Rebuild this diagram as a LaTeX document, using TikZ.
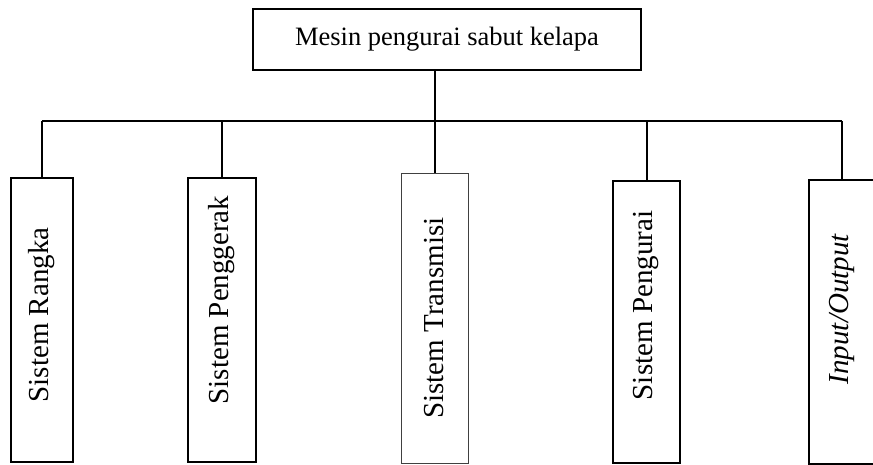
\documentclass[tikz,border=0pt]{standalone}
\usepackage{fontspec}
\setmainfont{Liberation Serif}
\begin{document}
\begin{tikzpicture}[x=1pt,y=1pt,yscale=-1,xscale=1,
  box/.style={draw, line width=2pt, inner sep=0pt, font=\fontsize{29}{32}\selectfont},
  sub/.style={box, rotate=90, minimum height=67pt},
  link/.style={line width=2pt}]
\useasboundingbox (0,0) rectangle (873,464);
%Shape: Rectangle (top)
\node [box, minimum width=388pt, minimum height=61pt, font=\fontsize{26.5}{30}\selectfont] (mesin) at (447,39.5) {Mesin pengurai sabut kelapa};
%Shape: Rectangle
\node [sub, minimum width=284pt, minimum height=62pt] (rangka) at (42,320) {\hspace*{10pt}Sistem Rangka};
%Shape: Rectangle
\node [sub, minimum width=284pt, minimum height=68pt] (penggerak) at (222,320) {\hspace*{40pt}Sistem Penggerak};
%Shape: Rectangle
\node [sub, minimum width=290pt, line width=0.9pt, draw=black!75] (transmisi) at (434.5,318) {Sistem Transmisi};
%Shape: Rectangle
\node [sub, minimum width=282pt] (pengurai) at (646.5,322) {\hspace*{33pt}Sistem Pengurai};
%Shape: Rectangle
\node [sub, minimum width=284pt] (inout) at (842,322) {\hspace*{26pt}\textit{Input/Output}};

%Straight Lines
\coordinate (busL) at (42,121);
\coordinate (busR) at (842,121);
\draw [link] (busL) -- (busR) ;
\draw [link] (mesin.south -| transmisi) -- (transmisi.east) ;
\draw [link] (rangka.east) -- (rangka |- busL) ;
\draw [link] (penggerak.east) -- (penggerak |- busL) ;
\draw [link] (pengurai.east) -- (pengurai |- busL) ;
\draw [link] (inout.east) -- (inout |- busL) ;

\end{tikzpicture}
\end{document}
